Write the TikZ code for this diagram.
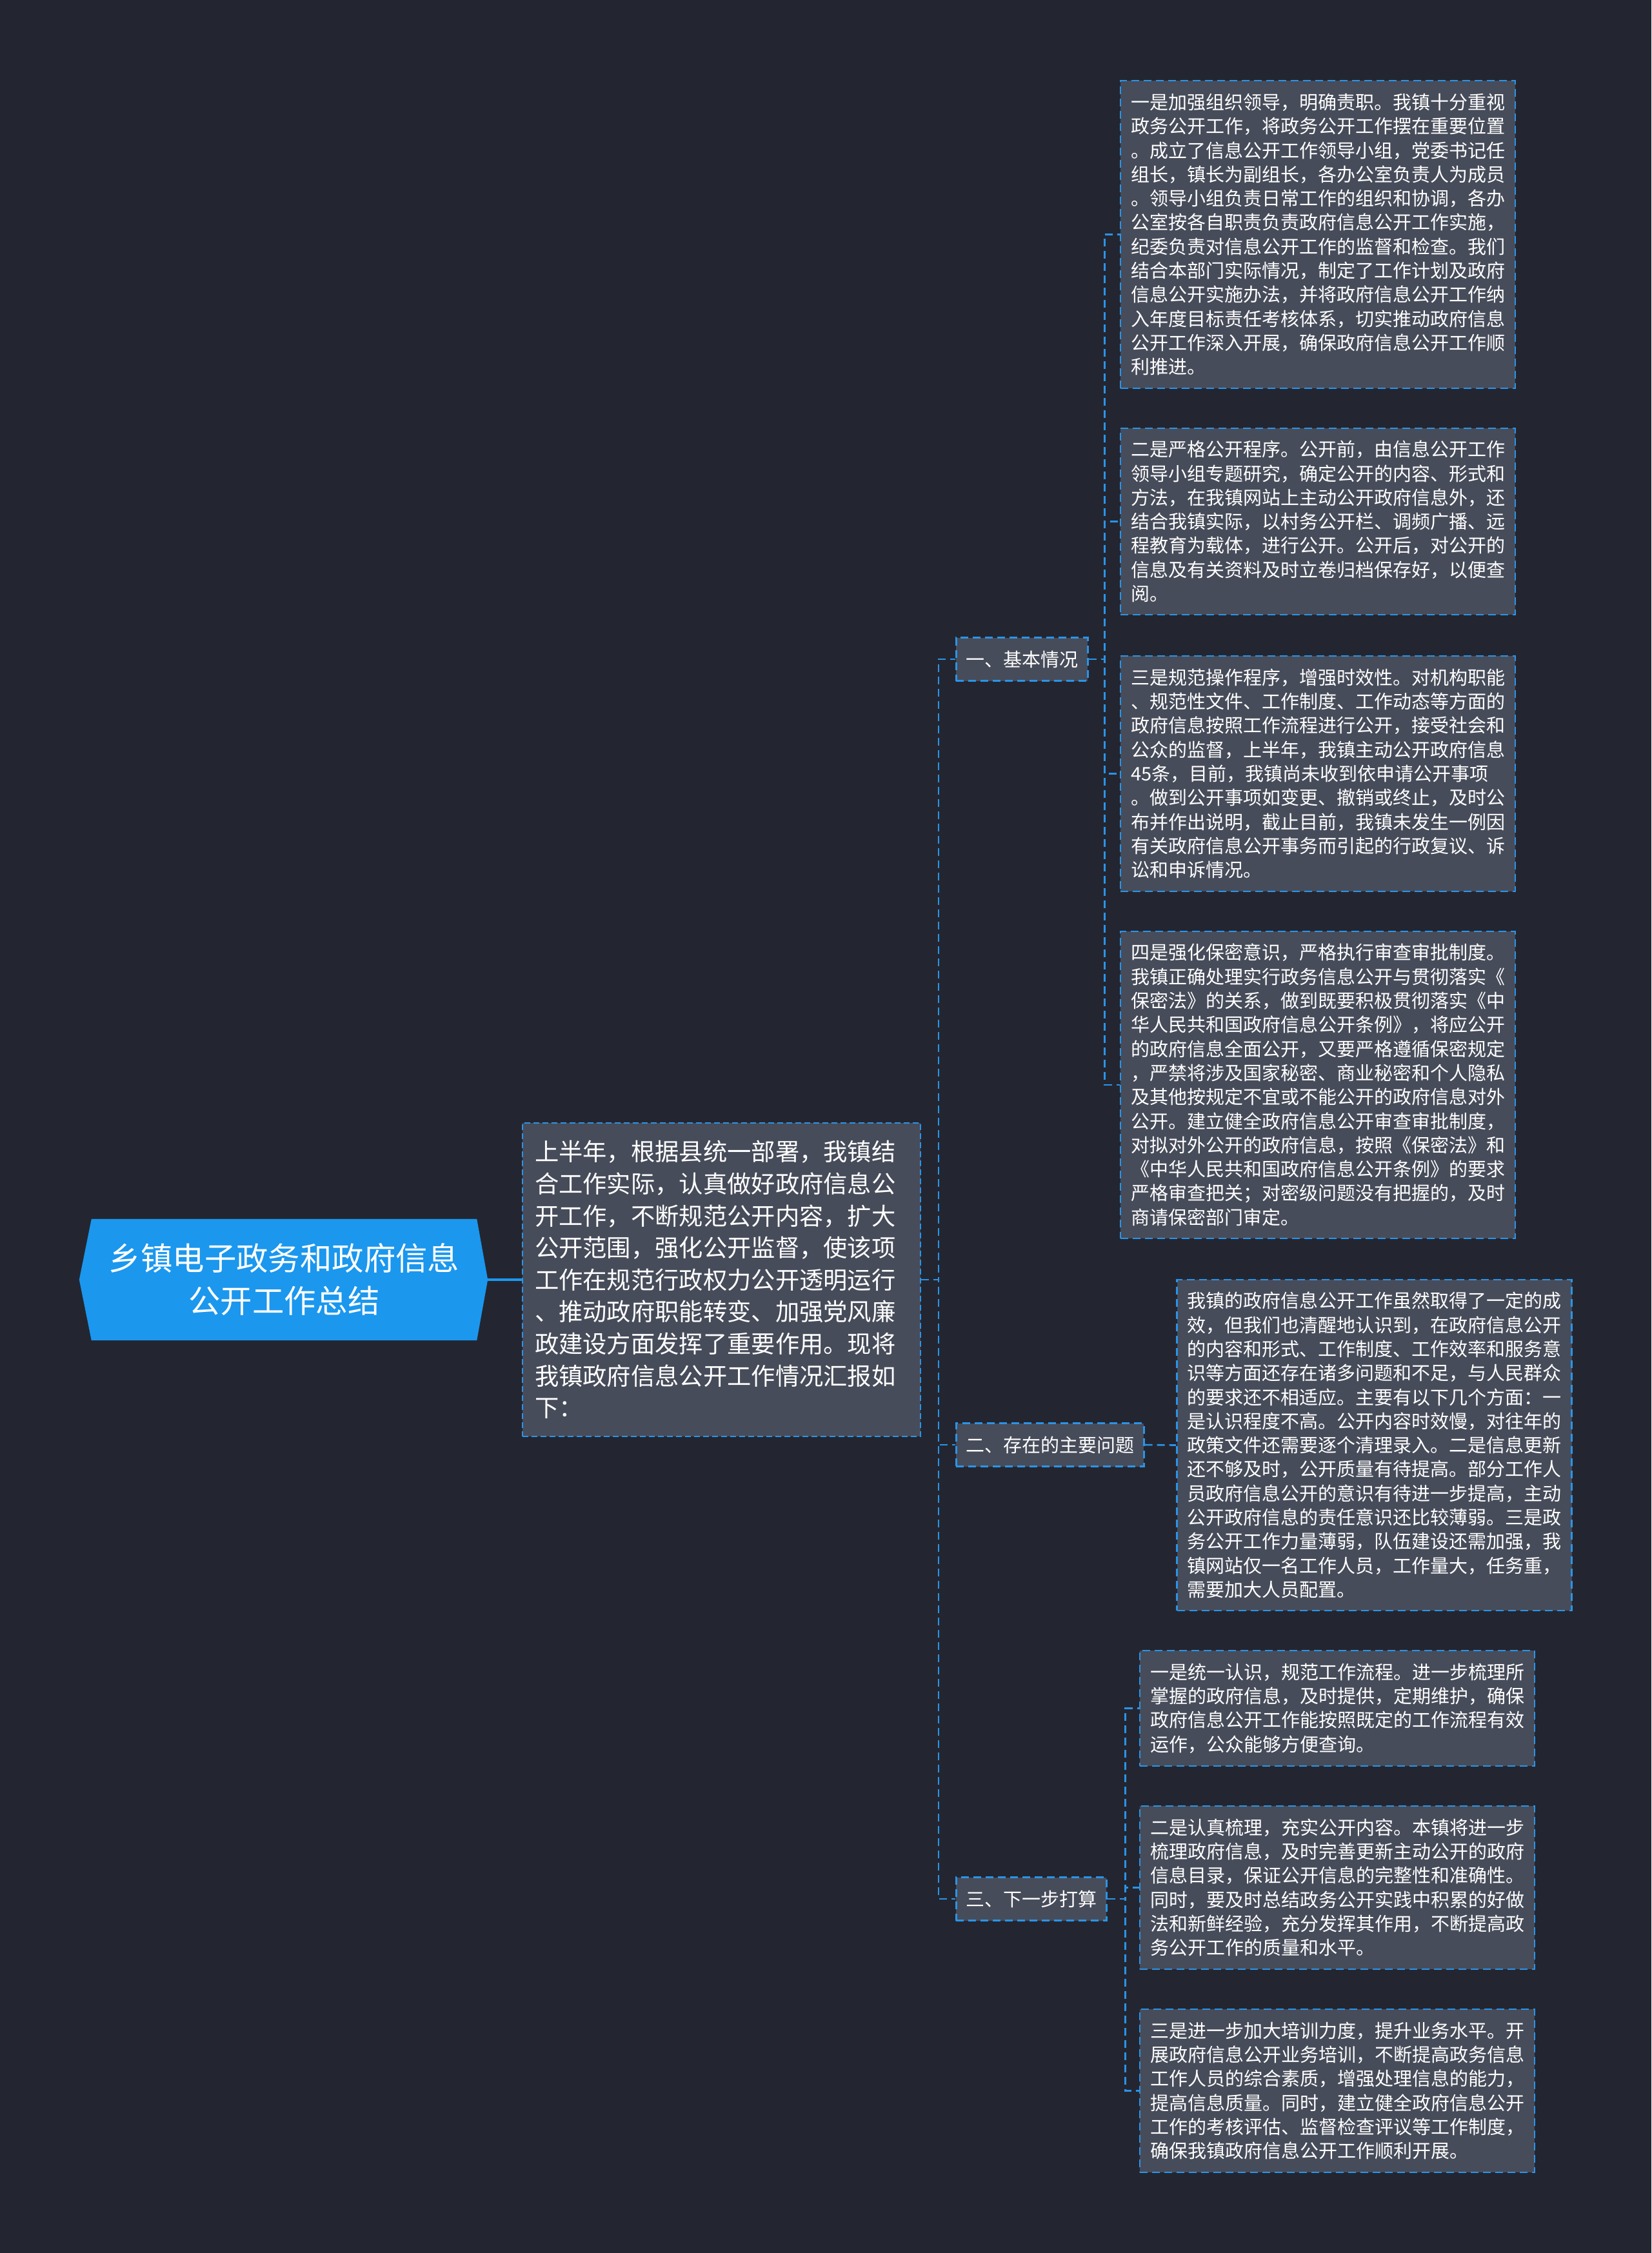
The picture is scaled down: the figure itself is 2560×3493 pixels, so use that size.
\documentclass[tikz,border=0pt]{standalone}
\usepackage{fontspec}
\setmainfont{Noto Sans CJK SC}
\pgfdeclarelayer{bg}
\pgfsetlayers{bg,main}
\definecolor{bgc}{RGB}{35,38,49}
\definecolor{boxc}{RGB}{71,76,90}
\definecolor{linec}{RGB}{42,148,232}
\definecolor{rootc}{RGB}{27,151,238}
\tikzset{
  con/.style={draw=linec, line width=2.6pt, dash pattern=on 12pt off 7pt},
  txtbox/.style={draw=linec, fill=boxc, line width=2.6pt, dash pattern=on 12pt off 7pt,
    text=white, font=\fontsize{29pt}{37.3pt}\selectfont, text width=580pt,
    inner xsep=16pt, inner ysep=0pt, align=left, minimum width=612pt},
  lab/.style={draw=linec, fill=boxc, line width=2.6pt, dash pattern=on 12pt off 7pt,
    text=white, font=\fontsize{29pt}{37.3pt}\selectfont, inner xsep=15pt,
    inner ysep=0pt, minimum height=67pt, anchor=west},
  introbox/.style={draw=linec, fill=boxc, line width=2pt, dash pattern=on 9pt off 5pt,
    text=white, font=\fontsize{37.3pt}{49.6pt}\selectfont, text width=579pt,
    inner xsep=19pt, inner ysep=0pt, align=left, minimum height=486pt},
  rootbox/.style={text=white, font=\fontsize{49.4pt}{66pt}\selectfont, align=center,
    text width=597pt, inner sep=0pt, minimum width=597pt, minimum height=188pt}
}
\begin{document}
\begin{tikzpicture}[x=1pt,y=-1pt]
\useasboundingbox (0,0) rectangle (2560,3493);
\begin{pgfonlayer}{bg}
\fill[bgc] (0,0) rectangle (2560,3493);
\end{pgfonlayer}

% root
\node[rootbox] (root) at (440.5,1984) {乡镇电子政务和政府信息\\公开工作总结};
\begin{pgfonlayer}{bg}
\fill[rootc] (root.north west) -- (root.north east) -- ([xshift=17pt]root.east)
  -- (root.south east) -- (root.south west) -- ([xshift=-19pt]root.west) -- cycle;
\end{pgfonlayer}

% intro
\node[introbox] (intro) at (1118.5,1984) {上半年，根据县统一部署，我镇结\\
合工作实际，认真做好政府信息公\\
开工作，不断规范公开内容，扩大\\
公开范围，强化公开监督，使该项\\
工作在规范行政权力公开透明运行\\
、推动政府职能转变、加强党风廉\\
政建设方面发挥了重要作用。现将\\
我镇政府信息公开工作情况汇报如\\
下：};

% labels
\node[lab] (l1) at (1481,1022) {一、基本情况};
\node[lab] (l2) at (1481,2240) {二、存在的主要问题};
\node[lab] (l3) at (1481,2944) {三、下一步打算};

% boxes
\node[txtbox, minimum height=477pt] (b1) at (2043,363.5) {一是加强组织领导，明确责职。我镇十分重视\\
政务公开工作，将政务公开工作摆在重要位置\\
。成立了信息公开工作领导小组，党委书记任\\
组长，镇长为副组长，各办公室负责人为成员\\
。领导小组负责日常工作的组织和协调，各办\\
公室按各自职责负责政府信息公开工作实施，\\
纪委负责对信息公开工作的监督和检查。我们\\
结合本部门实际情况，制定了工作计划及政府\\
信息公开实施办法，并将政府信息公开工作纳\\
入年度目标责任考核体系，切实推动政府信息\\
公开工作深入开展，确保政府信息公开工作顺\\
利推进。};

\node[txtbox, minimum height=289pt] (b2) at (2043,808.5) {二是严格公开程序。公开前，由信息公开工作\\
领导小组专题研究，确定公开的内容、形式和\\
方法，在我镇网站上主动公开政府信息外，还\\
结合我镇实际，以村务公开栏、调频广播、远\\
程教育为载体，进行公开。公开后，对公开的\\
信息及有关资料及时立卷归档保存好，以便查\\
阅。};

\node[txtbox, minimum height=365pt] (b3) at (2043,1199.5) {三是规范操作程序，增强时效性。对机构职能\\
、规范性文件、工作制度、工作动态等方面的\\
政府信息按照工作流程进行公开，接受社会和\\
公众的监督，上半年，我镇主动公开政府信息\\
45条，目前，我镇尚未收到依申请公开事项\\
。做到公开事项如变更、撤销或终止，及时公\\
布并作出说明，截止目前，我镇未发生一例因\\
有关政府信息公开事务而引起的行政复议、诉\\
讼和申诉情况。};

\node[txtbox, minimum height=476pt] (b4) at (2043,1682) {四是强化保密意识，严格执行审查审批制度。\\
我镇正确处理实行政务信息公开与贯彻落实《\\
保密法》的关系，做到既要积极贯彻落实《中\\
华人民共和国政府信息公开条例》，将应公开\\
的政府信息全面公开，又要严格遵循保密规定\\
，严禁将涉及国家秘密、商业秘密和个人隐私\\
及其他按规定不宜或不能公开的政府信息对外\\
公开。建立健全政府信息公开审查审批制度，\\
对拟对外公开的政府信息，按照《保密法》和\\
《中华人民共和国政府信息公开条例》的要求\\
严格审查把关；对密级问题没有把握的，及时\\
商请保密部门审定。};

\node[txtbox, minimum height=513pt] (b5) at (2130.5,2240.5) {我镇的政府信息公开工作虽然取得了一定的成\\
效，但我们也清醒地认识到，在政府信息公开\\
的内容和形式、工作制度、工作效率和服务意\\
识等方面还存在诸多问题和不足，与人民群众\\
的要求还不相适应。主要有以下几个方面：一\\
是认识程度不高。公开内容时效慢，对往年的\\
政策文件还需要逐个清理录入。二是信息更新\\
还不够及时，公开质量有待提高。部分工作人\\
员政府信息公开的意识有待进一步提高，主动\\
公开政府信息的责任意识还比较薄弱。三是政\\
务公开工作力量薄弱，队伍建设还需加强，我\\
镇网站仅一名工作人员，工作量大，任务重，\\
需要加大人员配置。};

\node[txtbox, minimum height=179pt] (b6) at (2073,2648.5) {一是统一认识，规范工作流程。进一步梳理所\\
掌握的政府信息，及时提供，定期维护，确保\\
政府信息公开工作能按照既定的工作流程有效\\
运作，公众能够方便查询。};

\node[txtbox, minimum height=253pt] (b7) at (2073,2926.5) {二是认真梳理，充实公开内容。本镇将进一步\\
梳理政府信息，及时完善更新主动公开的政府\\
信息目录，保证公开信息的完整性和准确性。\\
同时，要及时总结政务公开实践中积累的好做\\
法和新鲜经验，充分发挥其作用，不断提高政\\
务公开工作的质量和水平。};

\node[txtbox, minimum height=253pt] (b8) at (2073,3241.5) {三是进一步加大培训力度，提升业务水平。开\\
展政府信息公开业务培训，不断提高政务信息\\
工作人员的综合素质，增强处理信息的能力，\\
提高信息质量。同时，建立健全政府信息公开\\
工作的考核评估、监督检查评议等工作制度，\\
确保我镇政府信息公开工作顺利开展。};

% connectors
\draw[draw=rootc, line width=4pt] ([xshift=17pt]root.east) -- (intro.west);
\draw[con] (intro.east) -- ++(27,0) |- (l1.west);
\draw[con] (intro.east) -- ++(27,0) |- (l2.west);
\draw[con] (intro.east) -- ++(27,0) |- (l3.west);
\foreach \b in {b1,b2,b3,b4}{
  \draw[con] (l1.east) -- ++(25,0) |- (\b.west);
}
\draw[con] (l2.east) -- (b5.west);
\foreach \b in {b6,b7,b8}{
  \draw[con] (l3.east) -- ++(28,0) |- (\b.west);
}
\end{tikzpicture}
\end{document}
